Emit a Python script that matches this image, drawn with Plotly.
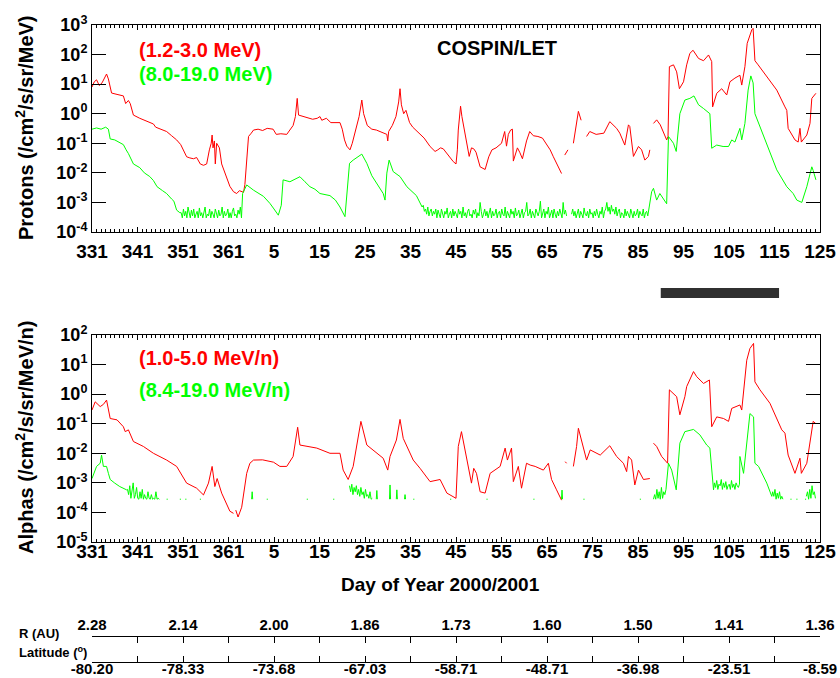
import plotly.graph_objects as go

# ---------------- axis labels / ticks ----------------
# continuous day number: 2000 DOY as is, 2001 DOY + 366
X_TICKVALS = [331, 341, 351, 361, 371, 381, 391, 401, 411, 421, 431, 441, 451, 461, 471, 481, 491]
X_TICKTEXT = ["331", "341", "351", "361", "5", "15", "25", "35", "45", "55", "65", "75", "85", "95", "105", "115", "125"]
ORBIT_TICKVALS = [331, 351, 371, 391, 411, 431, 451, 471, 491]
R_AU = ["2.28", "2.14", "2.00", "1.86", "1.73", "1.60", "1.50", "1.41", "1.36"]
LATITUDE = ["-80.20", "-78.33", "-73.68", "-67.03", "-58.71", "-48.71", "-36.98", "-23.51", "-8.59"]
BAR_DOY_2001 = [90, 116]

# ---------------- Protons 1.2-3.0 MeV (red) ----------------
P_LO = [
    (331.0, 8), (331.5, 12), (332.0, 14), (332.6, 9), (333.2, 11), (334.2, 22), (334.6, 15), (335.3, 5),
    (336.5, 4.5), (337.9, 4), (338.4, 2.2), (339.0, 2.8), (339.4, 2.2), (340.1, 0.9), (341.5, 0.7),
    (342.5, 0.6), (343.7, 0.5), (344.5, 0.45), (345.0, 0.35), (346.0, 0.3), (347.4, 0.25), (348.5, 0.18),
    (349.6, 0.13), (350.5, 0.09), (351.2, 0.05), (351.8, 0.035), (352.5, 0.032), (353.3, 0.03),
    (354.0, 0.033), (354.8, 0.02), (355.5, 0.018), (356.2, 0.02), (356.8, 0.06), (357.2, 0.1),
    (357.4, 0.19), (357.6, 0.07), (357.9, 0.12), (358.1, 0.02), (358.4, 0.1), (359.0, 0.07),
    (359.5, 0.02), (360.2, 0.01), (361.0, 0.005), (361.3, 0.0035), (362.1, 0.0023), (362.8, 0.002),
    (363.4, 0.0025), (364.3, 0.0022), (364.6, 0.004), (365.0, 0.03), (365.4, 0.17), (366.0, 0.22),
    (366.5, 0.28), (367.5, 0.3), (368.5, 0.27), (369.5, 0.32), (370.8, 0.3), (371.5, 0.2), (372.5, 0.21),
    (373.8, 0.2), (374.5, 0.28), (375.2, 0.4), (375.7, 0.8), (376.1, 3.3), (376.4, 0.9), (377.5, 0.8),
    (378.5, 0.7), (379.5, 0.65), (380.5, 0.7), (381.1, 0.8), (381.5, 0.6), (382.5, 0.7), (383.5, 0.5),
    (384.5, 0.5), (385.5, 0.5), (386.0, 0.3), (386.5, 0.13), (387.0, 0.08), (387.7, 0.06), (388.2, 0.1),
    (389.0, 0.3), (389.7, 0.8), (390.3, 2.9), (390.7, 1.0), (391.5, 0.4), (392.5, 0.3), (393.5, 0.28),
    (394.3, 0.25), (395.0, 0.22), (395.8, 0.2), (396.0, 0.12), (396.2, 0.25), (397.0, 0.4), (397.8, 0.8),
    (398.4, 2.5), (398.7, 7), (399.0, 2.0), (399.5, 1.0), (400.0, 1.3), (400.8, 0.5), (401.5, 0.35),
    (402.5, 0.25), (403.1, 0.19), (404.0, 0.15), (405.3, 0.078), (406.4, 0.053), (407.0, 0.06),
    (407.6, 0.07), (408.2, 0.065), (409.0, 0.045), (409.8, 0.03), (410.4, 0.024), (411.0, 0.02),
    (411.3, 0.06), (411.5, 0.28), (412.0, 1.8), (412.3, 0.8), (412.8, 0.3), (413.3, 0.12),
    (413.9, 0.036), (414.4, 0.07), (414.9, 0.065), (415.4, 0.05), (416.3, 0.016), (417.4, 0.013),
    (418.2, 0.035), (418.9, 0.06), (419.8, 0.07), (421.0, 0.1), (421.7, 0.25), (422.1, 0.08),
    (422.5, 0.2), (423.0, 0.28), (423.4, 0.3), (423.6, 0.025), (424.5, 0.07), (425.0, 0.05),
    (425.6, 0.03), (426.5, 0.12), (427.2, 0.25), (428.0, 0.18), (429.0, 0.17), (430.0, 0.15),
    (430.8, 0.1), (431.7, 0.06), (432.4, 0.035), (433.3, 0.018), (434.2, 0.0095), None,
    (434.9, 0.04), (435.6, 0.06), None, (436.8, 0.1), (437.5, 0.5), (437.9, 1.2), (438.5, 0.6), None,
    (439.7, 0.17), (440.4, 0.25), (441.8, 0.2), (443.5, 0.22), (444.8, 0.54), (446.3, 0.32),
    (447.0, 0.22), (448.1, 0.087), (448.9, 0.42), (449.2, 0.37), (450.0, 0.036), (451.1, 0.078),
    (451.8, 0.06), (452.5, 0.027), (453.3, 0.036), (453.6, 0.06), None,
    (454.4, 0.47), (455.1, 0.62), (455.9, 0.42), (457.3, 0.13), (457.6, 0.17), (457.9, 39),
    (458.8, 45), (459.5, 26), (460.1, 7), (461.0, 12), (461.7, 45), (462.4, 110), (463.1, 140),
    (464.3, 74), (465.4, 62), (466.5, 97), (467.2, 58), (467.4, 1.7), (468.3, 4.9), (469.4, 7),
    (470.5, 4.3), (471.2, 12), (472.3, 16), (473.4, 20), (473.8, 9.3), (474.5, 39), (475.0, 240),
    (476.0, 680), (476.3, 770), (476.7, 62), (477.4, 45), (479.3, 18), (481.5, 6.3), (483.3, 1.7),
    (483.7, 1.3), (484.0, 0.32), (485.5, 0.13), (486.2, 0.11), (486.6, 0.32), (486.9, 0.11),
    (488.1, 0.19), (488.8, 0.47), (489.2, 3.3), (490.1, 4.9),
]

# ---------------- Protons 8.0-19.0 MeV (green) ----------------
P_HI_A = [
    (331.0, 0.3), (332.0, 0.33), (333.0, 0.3), (334.0, 0.35), (334.6, 0.3), (335.0, 0.14), (336.0, 0.13),
    (337.0, 0.11), (337.9, 0.09), (338.5, 0.06), (339.0, 0.045), (340.1, 0.02), (341.5, 0.015),
    (342.5, 0.01), (343.7, 0.0075), (344.5, 0.0055), (345.3, 0.0034), (346.5, 0.0025), (347.4, 0.002),
    (348.5, 0.0013), (349.0, 0.0011), (349.6, 0.00055), (350.3, 0.00045),
]
# background counts, 0.25-day samples, units of 1e-4
P_HI_BG1_START = 350.6
P_HI_BG1 = ("4.5 3 6 3.5 5 3 7 4 3 5.5 3.5 6 3 4 5 3 6.5 3.5 4.5 3 5 7 3 4 3.5 6 3 5 4 3 "
            "6 4.5 3 5.5 3.5 4 7 3 5 3.5 4 6 3 4.5 3 5 6.5 3.5 4 3 5.5 4 7 3")
P_HI_B = [
    (364.1, 0.002), (365.0, 0.0039), (366.5, 0.0026), (368.7, 0.0016), (370.1, 0.00093), (371.0, 0.0006),
    (371.95, 0.00037), (372.6, 0.0008), (373.0, 0.0058), (374.5, 0.005), (375.5, 0.006), (376.7, 0.0074),
    (377.8, 0.005), (378.9, 0.0034), (380.0, 0.0028), (381.1, 0.002), (383.3, 0.0017), (384.5, 0.0012),
    (385.5, 0.0007), (386.6, 0.00033), (387.6, 0.021), (388.4, 0.027), (390.3, 0.043), (391.4, 0.021),
    (392.5, 0.008), (393.6, 0.0045), (395.0, 0.002), (395.4, 0.0012), (395.8, 0.0098), (396.3, 0.027),
    (397.2, 0.011), (398.7, 0.0075), (400.2, 0.0034), (402.3, 0.0017), (403.1, 0.001),
]
P_HI_BG2_START = 403.3
P_HI_BG2 = ("9 7 8 5 6 4 7 3.5 5 6 3.5 5 4 6 3 5.5 4 3 6 4.5 3 5 4 6.5 3 4 5 3 6 3.5 "
            "5 4 3 6 4 5 3 7 3.5 4.5 3 5 6 3.5 4 3 5.5 4 6 3 4.5 3.5 10 5 3 4 6 3.5 5 3 "
            "4 6.5 3 5 3.5 4 6 3 4.5 5 3 6 4 3.5 7 3 5 4 3 6 4 5 3 6.5 3.5 4 5.5 3 4 6 "
            "3 4.5 5 10 3.5 4 6 3 5 4 3 6 4 3.5 5 11 3 4.5 6 3 5 4 7 3 4.5 5.5 3 6 4 3 "
            "5 3.5 6 4 3 10 4 5.5 3.5")
P_HI_BG3_START = 436.4
P_HI_BG3 = ("4 6 3.5 5 3 4.5 6 3 5 4 3 6.5 4 3.5 5 3 6 4 4.5 3 5 3.5 6 4 3 5 4 7 3 5 "
            "6 10 5 7 4 8 5 6 4 7 3.5 5 6 3 4.5 4 3 6 3.5 5 4 3 6 4.5 3 5 3.5 4 6 3 "
            "5 4 3.5 6 3 4.5 5 3.5 6")
P_HI_C = [
    (454.0, 0.0023), (454.4, 0.003), (455.1, 0.0012), (455.8, 0.002), (456.6, 0.0013), (457.3, 0.0009),
    (457.7, 0.17), (458.8, 0.1), (459.4, 0.053), (460.2, 1.0), (461.3, 2.9), (462.4, 3.3), (463.3, 4.0),
    (464.3, 2.0), (465.4, 1.5), (466.8, 1.0), (467.2, 0.068), (468.3, 0.087), (469.7, 0.078),
    (470.9, 0.078), (471.6, 0.13), (472.3, 0.11), (473.4, 0.32), (473.8, 0.13), (474.5, 0.47),
    (475.2, 6.3), (475.8, 19), (476.3, 11), (476.7, 1.0), (477.1, 0.69), (479.3, 0.1), (481.5, 0.0126),
    (483.7, 0.0034), (485.1, 0.002), (485.9, 0.0012), (487.0, 0.001), (488.1, 0.0034), (489.2, 0.016),
    (489.5, 0.012), (490.1, 0.0058),
]

# ---------------- Alphas 1.0-5.0 MeV/n (red) ----------------
A_LO = [
    (331.0, 0.29), (331.7, 0.55), (332.8, 0.38), (333.5, 0.45), (334.2, 0.63), (335.0, 0.15),
    (336.5, 0.135), (337.9, 0.079), (338.3, 0.054), (339.0, 0.062), (340.1, 0.025), (342.3, 0.017),
    (344.5, 0.01), (347.4, 0.0059), (349.6, 0.0036), (351.8, 0.00098), (354.0, 0.00066),
    (355.5, 0.00039), (356.6, 0.00098), (357.4, 0.0036), (358.0, 0.00075), (358.5, 0.0014),
    (359.5, 0.00045), (360.6, 0.0002), (361.3, 0.00011), (362.1, 0.000093), None, (362.6, 0.00012),
    (363.1, 0.00007), (363.9, 0.00015), (365.0, 0.0021), (365.7, 0.0046), (366.5, 0.0059),
    (368.5, 0.006), (370.9, 0.005), (372.3, 0.0036), (373.8, 0.0036), (375.2, 0.0078), (376.2, 0.076),
    (376.7, 0.019), (380.4, 0.015), (383.3, 0.01), (385.5, 0.01), (386.2, 0.0027), (387.3, 0.0013),
    (388.4, 0.0036), (390.1, 0.12), (391.4, 0.019), (395.0, 0.0068), (396.0, 0.0027), (396.5, 0.0078),
    (397.9, 0.028), (398.7, 0.14), (399.4, 0.032), (401.6, 0.0059), (403.1, 0.0031), (405.3, 0.0011),
    (407.5, 0.0013), (409.0, 0.00045), (411.0, 0.0003), (411.5, 0.017), (412.2, 0.054), (413.3, 0.0078),
    (414.4, 0.00098), (414.9, 0.0031), (415.5, 0.0021), (416.3, 0.0005), (417.4, 0.00045),
    (418.5, 0.0021), (420.7, 0.0036), (421.8, 0.015), (422.3, 0.0059), (423.2, 0.015), (423.6, 0.0011),
    (424.7, 0.0036), (425.4, 0.00066), (426.5, 0.0046), (427.3, 0.004), (428.4, 0.0036),
    (430.2, 0.0027), (431.3, 0.0046), (432.0, 0.0013), (433.1, 0.00058), (434.2, 0.00026), None,
    (435.0, 0.0052), (435.3, 0.0046), None, (436.8, 0.0036), (437.5, 0.017), (437.9, 0.07),
    (439.0, 0.017), (439.7, 0.0059), (440.5, 0.013), (442.7, 0.0087), (444.8, 0.018), (446.3, 0.0078),
    (447.8, 0.0046), (448.5, 0.0024), (448.9, 0.0078), (449.6, 0.0059), (450.3, 0.00085),
    (451.1, 0.0027), (452.2, 0.0013), (453.6, 0.0014), None, (454.4, 0.022), (455.1, 0.017),
    (456.2, 0.0078), (457.5, 0.0046), (457.9, 1.4), (458.8, 1.07), (459.5, 0.82), (460.2, 0.2),
    (461.3, 0.82), (461.7, 1.8), (463.2, 5.8), (463.9, 3.9), (465.4, 2.3), (466.7, 3.0), (467.2, 0.079),
    (468.3, 0.17), (469.8, 0.15), (470.9, 0.12), (471.6, 0.33), (473.4, 0.43), (473.8, 0.29),
    (474.9, 14), (475.6, 35), (476.4, 52), (476.7, 2.6), (477.8, 1.4), (480.0, 0.49), (482.6, 0.062),
    (483.3, 0.048), (484.0, 0.0087), (485.5, 0.0021), (486.6, 0.0068), (486.9, 0.0021),
    (488.1, 0.0046), (488.8, 0.022), (489.5, 0.12), (490.1, 0.1),
]

# ---------------- Alphas 8.4-19.0 MeV/n (green) ----------------
A_FLOOR = 2.8e-4
A_HI_A = [
    (331.0, 0.0014), (332.0, 0.0036), (332.8, 0.0046), (333.1, 0.0087), (333.5, 0.0036), (334.2, 0.0036),
    (334.6, 0.0021), (335.0, 0.0013), (336.0, 0.00098), (337.1, 0.00075), (338.6, 0.00058),
]
A_HI_BG1_START = 338.8
A_HI_BG1 = "6 4 8 3 5 10 3 4 7 3 2.8 5 3 6 2.8 4 3 2.8 5 3 2.8 4 2.8 3 2.8 5 2.8 3 2.8"
A_HI_BG2_START = 387.6
A_HI_BG2 = "8 5 9 4 7 5 8 4 6 3.5 7 4 5 3 6 3.5 4 3 5 2.8 3"
A_HI_BG3_START = 454.4
A_HI_BG3 = "2.8 4 2.8 6 3 5 2.8 7 3 5 4 6"
A_HI_B = [
    (457.7, 0.0046), (458.4, 0.0027), (459.4, 0.00058), (460.2, 0.022), (461.3, 0.054), (463.2, 0.064),
    (464.6, 0.042), (466.1, 0.019), (466.8, 0.015), (467.2, 0.0021), (467.6, 0.00058),
]
A_HI_BG4_START = 467.8
A_HI_BG4 = "10 7 12 6 9 8 13 6 10 7 11 6 8 9 6 12 7 9 6 10 8 7 9"
A_HI_C = [
    (473.4, 0.0078), (474.2, 0.0021), (475.3, 0.079), (475.6, 0.22), (476.4, 0.17), (476.7, 0.0046),
    (477.5, 0.0036), (479.3, 0.00098), (480.4, 0.00035),
]
A_HI_BG5_START = 480.6
A_HI_BG5 = "5 3.5 6 2.8 4.5 3 5 2.8 3.5 2.8"
A_HI_BG6_START = 488.0
A_HI_BG6 = "3.5 5 2.8 6 3 8 4 5 3"
# isolated single-count samples at the floor, and isolated spikes (day, value)
A_HI_DOTS = [347.4, 350.3, 351.5, 354.7, 369.4, 378.2, 384.0, 401.6, 409.7, 417.7, 428.0, 439.0, 451.4,
             484.5, 485.8, 487.7]
A_HI_SPIKES = [(366.2, 5e-4), (393.6, 5.5e-4), (396.5, 8.5e-4), (398.0, 5.8e-4), (399.8, 4e-4),
               (434.3, 5.7e-4)]


# ---------------- helpers ----------------
def bg(start, text, step=0.25, unit=1e-4):
    vals = [float(s) * unit for s in text.split()]
    return [(start + i * step, v) for i, v in enumerate(vals)]


def xy(points):
    xs, ys = [], []
    for p in points:
        if p is None:
            xs.append(None)
            ys.append(None)
        else:
            xs.append(p[0])
            ys.append(p[1])
    return xs, ys


p_hi = P_HI_A + bg(P_HI_BG1_START, P_HI_BG1) + P_HI_B + bg(P_HI_BG2_START, P_HI_BG2) + [None] \
    + bg(P_HI_BG3_START, P_HI_BG3) + P_HI_C

a_hi = A_HI_A + bg(A_HI_BG1_START, A_HI_BG1) + [None] + bg(A_HI_BG2_START, A_HI_BG2) + [None] \
    + bg(A_HI_BG3_START, A_HI_BG3) + A_HI_B + bg(A_HI_BG4_START, A_HI_BG4) + A_HI_C \
    + bg(A_HI_BG5_START, A_HI_BG5) + [None] + bg(A_HI_BG6_START, A_HI_BG6) + [None]
for d in A_HI_DOTS:
    a_hi += [(d, A_FLOOR), (d + 0.25, A_FLOOR), None]
for d, v in A_HI_SPIKES:
    a_hi += [(d - 0.12, A_FLOOR), (d, v), (d + 0.12, A_FLOOR), None]

RED = "#ff0000"
GREEN = "#00ff00"
FONT = "Liberation Sans, Arial, Helvetica, sans-serif"
W, H = 840, 678

fig = go.Figure()
for pts, color, xa, ya in [(P_LO, RED, "x", "y"), (p_hi, GREEN, "x", "y"),
                           (A_LO, RED, "x2", "y2"), (a_hi, GREEN, "x2", "y2")]:
    xs, ys = xy(pts)
    fig.add_trace(go.Scatter(x=xs, y=ys, mode="lines", line=dict(color=color, width=1),
                             connectgaps=False, xaxis=xa, yaxis=ya, showlegend=False, hoverinfo="skip"))

# dummy traces so the R / Latitude axes exist
fig.add_trace(go.Scatter(x=[None], y=[None], xaxis="x3", yaxis="y3", showlegend=False))
fig.add_trace(go.Scatter(x=[None], y=[None], xaxis="x4", yaxis="y4", showlegend=False))

XDOM = [92 / W, 820 / W]
TOP_DOM = [1 - 232 / H, 1 - 25 / H]
BOT_DOM = [1 - 542 / H, 1 - 335 / H]

tickfont = dict(family=FONT, size=19, color="black", weight="bold")


def xaxis_common(anchor, standoff):
    return dict(domain=XDOM, range=[331, 491], anchor=anchor, tickmode="array", tickvals=X_TICKVALS,
                ticktext=X_TICKTEXT, ticks="inside", ticklen=5, tickcolor="black", mirror="allticks",
                showline=True, linecolor="black", linewidth=1, showgrid=False, zeroline=False,
                tickfont=tickfont, ticklabelstandoff=standoff, automargin=False,
                minor=dict(ticks="inside", ticklen=3, dtick=1, tick0=331, tickcolor="black", showgrid=False))


def yaxis_common(anchor, dom, lo, hi):
    vals = list(range(lo, hi + 1))
    return dict(domain=dom, type="log", range=[lo, hi], anchor=anchor, tickmode="array",
                tickvals=[10.0 ** v for v in vals], ticktext=["10<sup>%d</sup>" % v for v in vals],
                ticks="inside", ticklen=14, tickcolor="black", mirror="allticks", showline=True,
                linecolor="black", linewidth=1, showgrid=False, zeroline=False,
                tickfont=dict(family=FONT, size=18, color="black", weight="bold"), automargin=False)


small = dict(family=FONT, size=15, color="black", weight="bold")


def orbit_axis(pos, side, labels, standoff):
    return dict(domain=XDOM, range=[331, 491], anchor="free", position=pos, side=side,
                tickmode="array", tickvals=ORBIT_TICKVALS, ticktext=labels, ticks="inside", ticklen=6,
                tickcolor="black", showline=True, linecolor="black", linewidth=1, showgrid=False,
                zeroline=False, tickfont=small, automargin=False, ticklabelstandoff=standoff,
                minor=dict(ticks="inside", ticklen=6, dtick=10, tick0=331, tickcolor="black", showgrid=False))


fig.update_layout(
    width=W, height=H, margin=dict(l=0, r=0, t=0, b=0),
    paper_bgcolor="white", plot_bgcolor="white",
    xaxis=xaxis_common("y", 2),
    yaxis=yaxis_common("x", TOP_DOM, -4, 3),
    xaxis2=xaxis_common("y2", -8),
    yaxis2=yaxis_common("x2", BOT_DOM, -5, 2),
    xaxis3=orbit_axis(1 - 636 / H, "top", R_AU, 0),
    yaxis3=dict(domain=[0, 0.01], anchor="x3", visible=False),
    xaxis4=orbit_axis(1 - 662 / H, "bottom", LATITUDE, -7),
    yaxis4=dict(domain=[0, 0.01], anchor="x4", visible=False),
)

ann_font = dict(family=FONT, size=20, weight="bold")
annotations = [
    dict(text="(1.2-3.0 MeV)", x=137 / W, y=1 - 50 / H, color=RED),
    dict(text="(8.0-19.0 MeV)", x=137 / W, y=1 - 74 / H, color=GREEN),
    dict(text="COSPIN/LET", x=435 / W, y=1 - 48 / H, color="black"),
    dict(text="(1.0-5.0 MeV/n)", x=137 / W, y=1 - 358 / H, color=RED),
    dict(text="(8.4-19.0 MeV/n)", x=137 / W, y=1 - 390 / H, color=GREEN),
]
for a in annotations:
    fig.add_annotation(text=a["text"], x=a["x"], y=a["y"], xref="paper", yref="paper",
                       xanchor="left", yanchor="middle", showarrow=False,
                       font=dict(ann_font, color=a["color"]))

fig.add_annotation(text="Protons (/cm<sup>2</sup>/s/sr/MeV)", x=24 / W, y=1 - 128 / H, xref="paper",
                   yref="paper", textangle=-90, showarrow=False, xanchor="center", yanchor="middle",
                   font=dict(family=FONT, size=20, color="black", weight="bold"))
fig.add_annotation(text="Alphas (/cm<sup>2</sup>/s/sr/MeV/n)", x=24 / W, y=1 - 438 / H, xref="paper",
                   yref="paper", textangle=-90, showarrow=False, xanchor="center", yanchor="middle",
                   font=dict(family=FONT, size=20, color="black", weight="bold"))
fig.add_annotation(text="Day of Year 2000/2001", x=440 / W, y=1 - 584 / H, xref="paper", yref="paper",
                   showarrow=False, xanchor="center", yanchor="middle",
                   font=dict(family=FONT, size=19, color="black", weight="bold"))
fig.add_annotation(text="R (AU)", x=17 / W, y=1 - 633 / H, xref="paper", yref="paper",
                   showarrow=False, xanchor="left", yanchor="middle",
                   font=dict(family=FONT, size=13, color="black", weight="bold"))
fig.add_annotation(text="Latitude (<sup>o</sup>)", x=17 / W, y=1 - 652 / H, xref="paper", yref="paper",
                   showarrow=False, xanchor="left", yanchor="middle",
                   font=dict(family=FONT, size=13, color="black", weight="bold"))

fig.add_shape(type="rect", xref="x", yref="paper", x0=BAR_DOY_2001[0] + 366, x1=BAR_DOY_2001[1] + 366,
              y0=1 - 298 / H, y1=1 - 288 / H, fillcolor="#303030", line=dict(width=0))

fig.write_html("out.html", config={"displayModeBar": False},
               post_script="document.body.style.margin='0px';document.body.style.overflow='hidden';")
